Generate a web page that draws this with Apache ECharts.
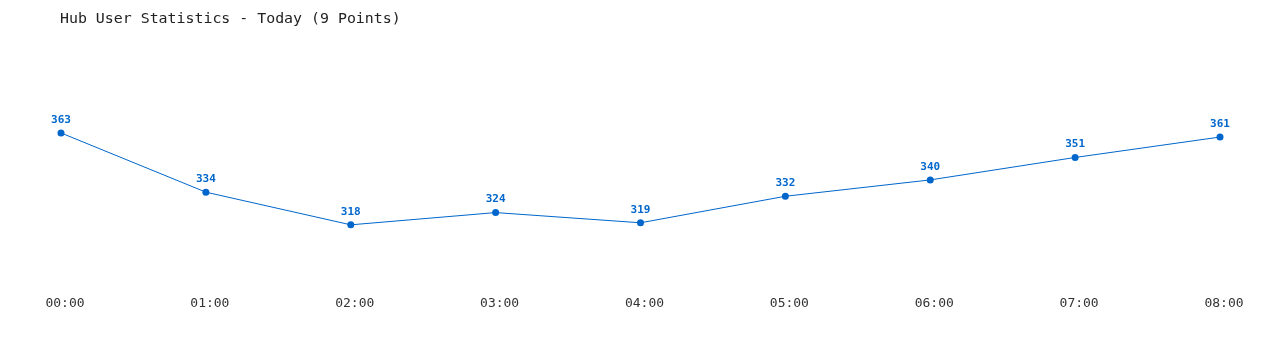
<!DOCTYPE html>
<html><head><meta charset="utf-8">
<script src="https://cdn.jsdelivr.net/npm/echarts@6/dist/echarts.min.js"></script>
<style>html,body{margin:0;padding:0;background:#fff}#c{width:1280px;height:350px}</style>
</head><body><div id="c"></div>
<script>
var categories = ["00:00","01:00","02:00","03:00","04:00","05:00","06:00","07:00","08:00"];
var users = [363, 334, 318, 324, 319, 332, 340, 351, 361];
var chart = echarts.init(document.getElementById('c'));
chart.setOption({
  animation: false,
  backgroundColor: '#fff',
  title: {
    text: 'Hub User Statistics - Today (9 Points)',
    left: 55, top: 7,
    textStyle: {fontFamily: 'DejaVu Sans Mono', fontSize: 14.9, fontWeight: 'normal', color: '#222'}
  },
  grid: {left: 61, right: 60, top: 37, bottom: 68},
  xAxis: {
    type: 'category', data: categories, boundaryGap: false,
    axisLine: {show: false}, axisTick: {show: false}, splitLine: {show: false},
    axisLabel: {margin: 15, color: '#333', fontFamily: 'DejaVu Sans Mono', fontSize: 13, padding: [0, 0, 0, 8]}
  },
  yAxis: {type: 'value', min: 290, max: 410, show: false, splitLine: {show: false}},
  series: [{
    type: 'line', data: users,
    symbol: 'circle', symbolSize: 7,
    lineStyle: {color: '#0066cc', width: 1},
    itemStyle: {color: '#0066cc'},
    label: {show: true, position: 'top', distance: 4, color: '#0066cc', fontWeight: 'bold',
      fontFamily: 'DejaVu Sans Mono', fontSize: 11}
  }]
});
</script></body></html>
